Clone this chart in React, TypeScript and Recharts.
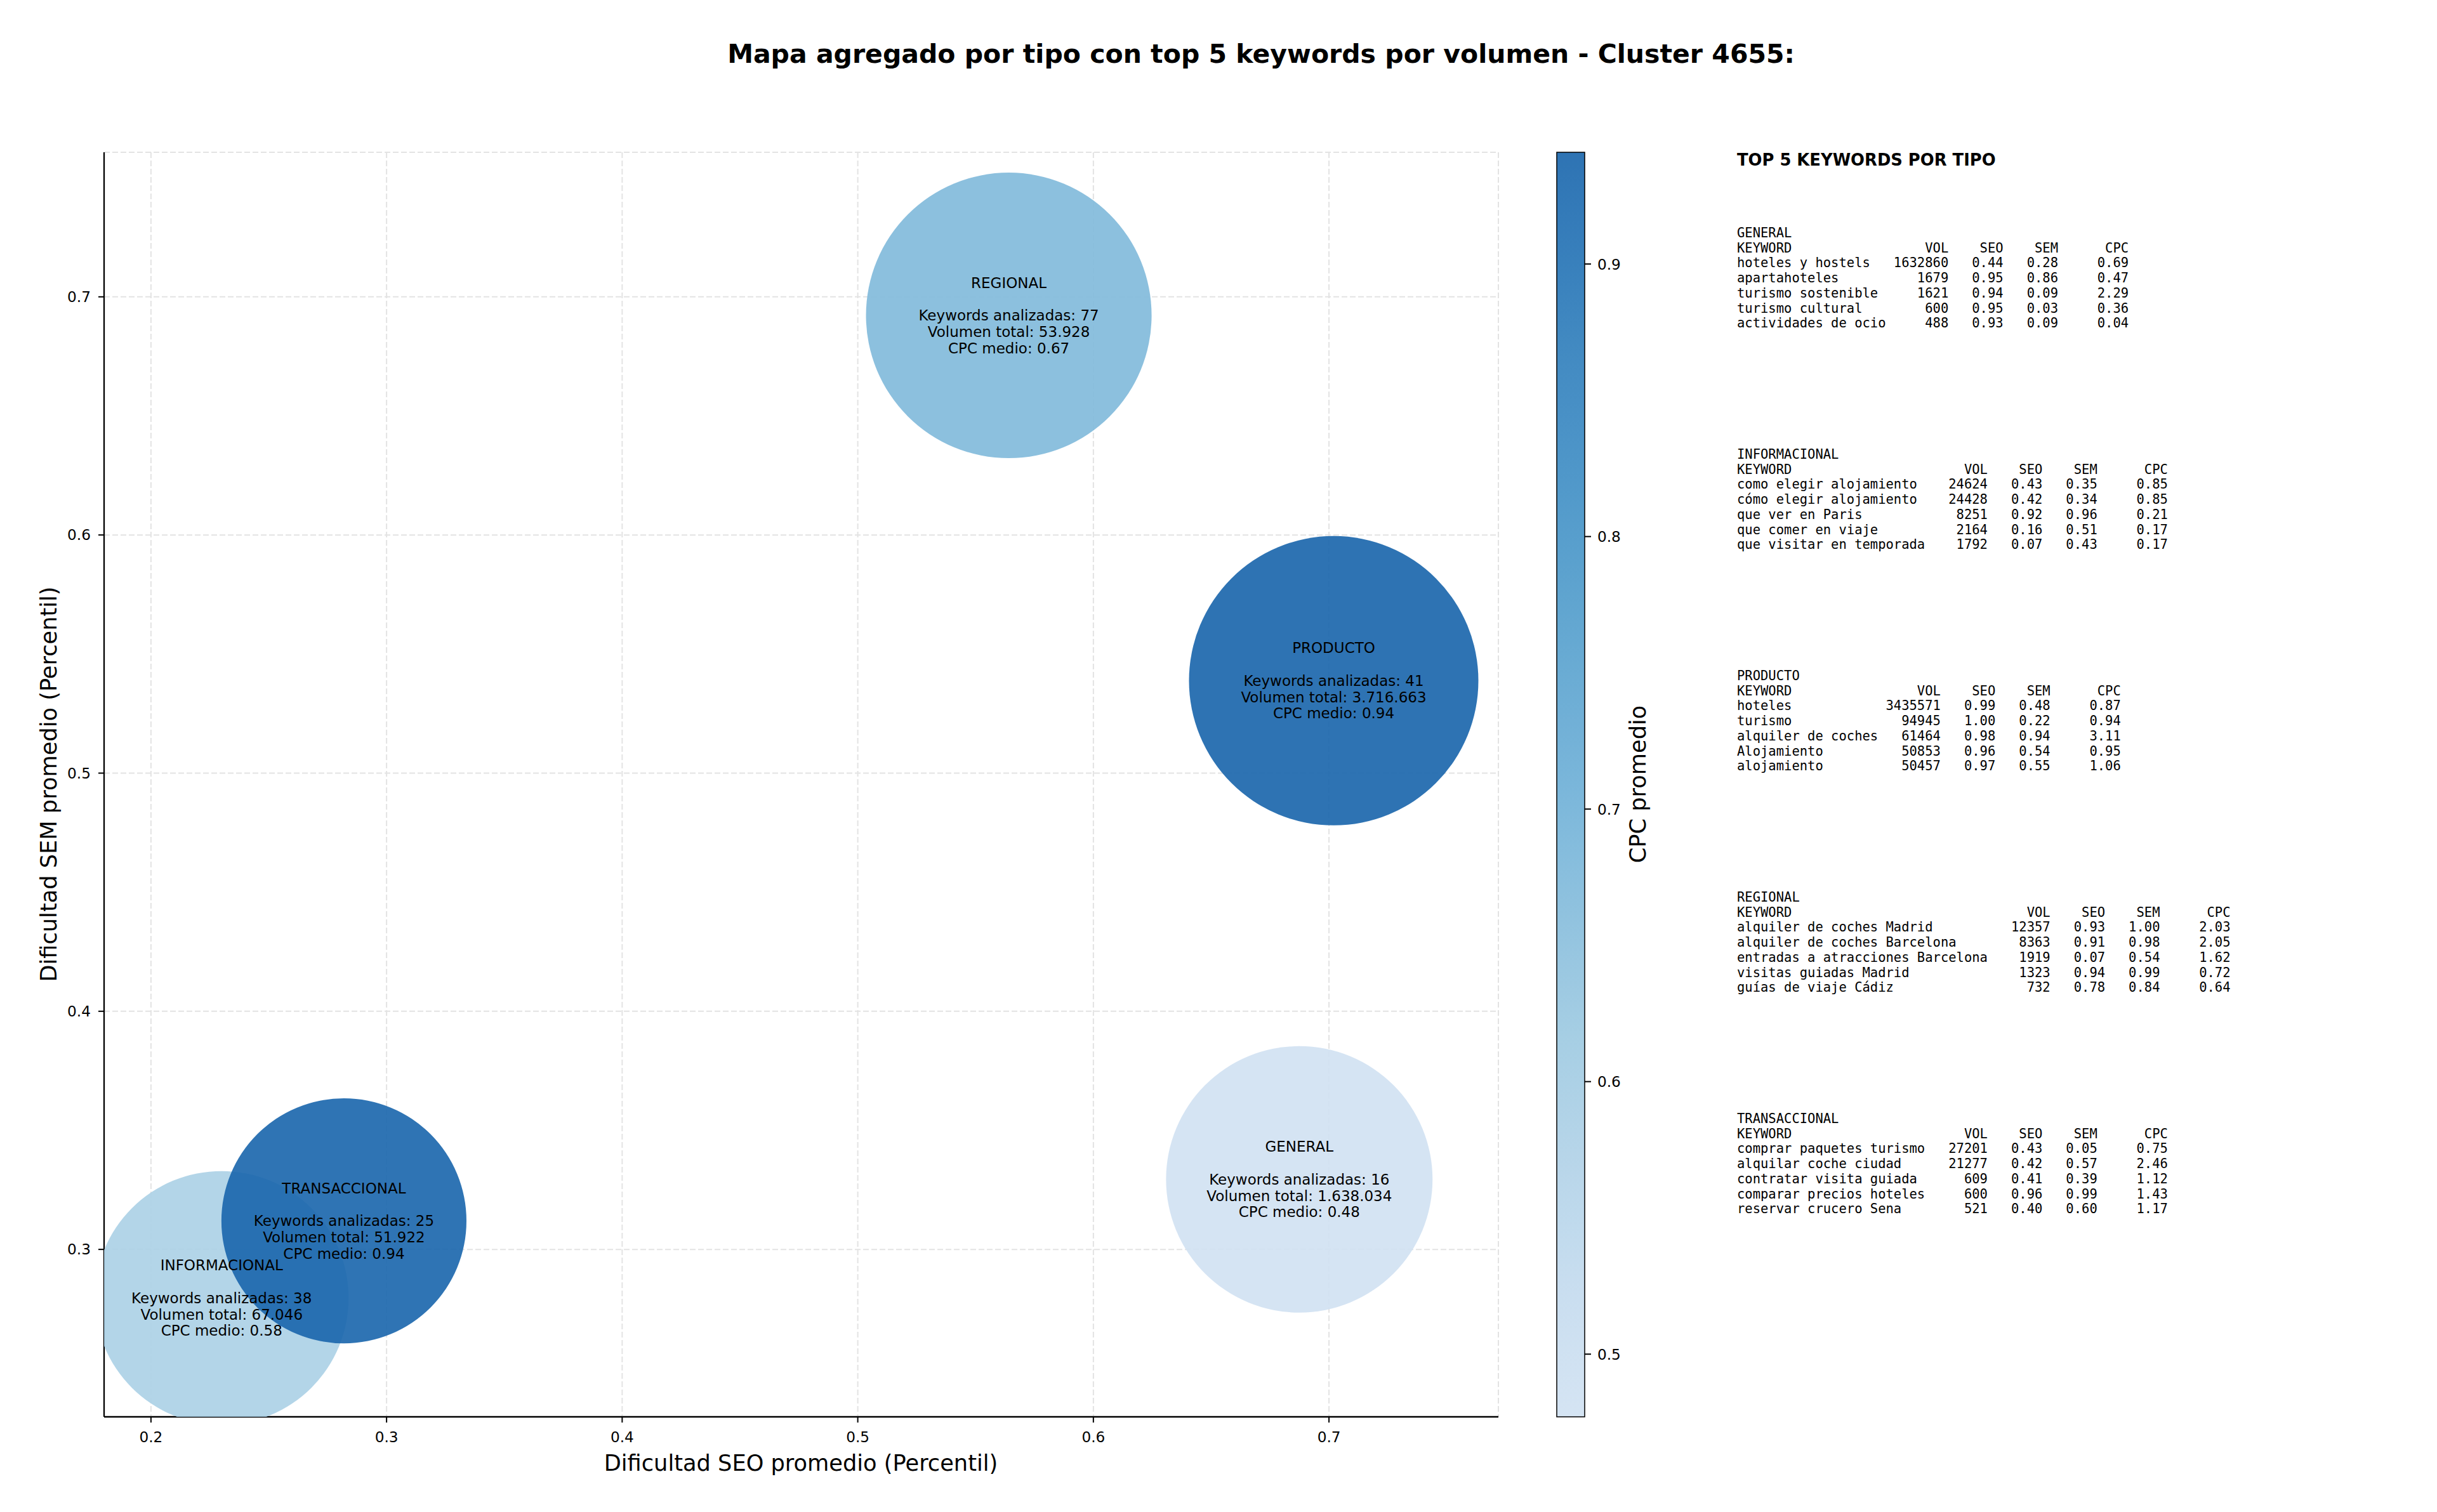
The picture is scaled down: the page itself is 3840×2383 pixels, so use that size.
import React from "react";
import {
  ScatterChart,
  Scatter,
  XAxis,
  YAxis,
  ZAxis,
  CartesianGrid,
  Cell,
} from "recharts";

// tipos de keyword, en el orden en que se dibujan
const tipos = ["GENERAL", "INFORMACIONAL", "PRODUCTO", "REGIONAL", "TRANSACCIONAL"];
const seoMedio = [0.6874, 0.23, 0.702, 0.5641, 0.2819];
const semMedio = [0.3294, 0.2796, 0.5388, 0.6922, 0.312];
const cpcMedio = [0.477, 0.58, 0.941, 0.67, 0.939];
const keywordsAnalizadas = [16, 38, 41, 77, 25];
const volumenTotal = [1638034, 67046, 3716663, 53928, 51922];
// peso relativo del area de cada burbuja
const pesoBurbuja = [0.848, 0.77, 1.0, 0.974, 0.717];

const xTicks = [0.2, 0.3, 0.4, 0.5, 0.6, 0.7];
const yTicks = [0.3, 0.4, 0.5, 0.6, 0.7];
const cbTicks = [0.5, 0.6, 0.7, 0.8, 0.9];

type Row = [string, number, number, number, number];

const topGeneral: Row[] = [
  ["hoteles y hostels", 1632860, 0.44, 0.28, 0.69],
  ["apartahoteles", 1679, 0.95, 0.86, 0.47],
  ["turismo sostenible", 1621, 0.94, 0.09, 2.29],
  ["turismo cultural", 600, 0.95, 0.03, 0.36],
  ["actividades de ocio", 488, 0.93, 0.09, 0.04],
];
const topInformacional: Row[] = [
  ["como elegir alojamiento", 24624, 0.43, 0.35, 0.85],
  ["cómo elegir alojamiento", 24428, 0.42, 0.34, 0.85],
  ["que ver en Paris", 8251, 0.92, 0.96, 0.21],
  ["que comer en viaje", 2164, 0.16, 0.51, 0.17],
  ["que visitar en temporada", 1792, 0.07, 0.43, 0.17],
];
const topProducto: Row[] = [
  ["hoteles", 3435571, 0.99, 0.48, 0.87],
  ["turismo", 94945, 1.0, 0.22, 0.94],
  ["alquiler de coches", 61464, 0.98, 0.94, 3.11],
  ["Alojamiento", 50853, 0.96, 0.54, 0.95],
  ["alojamiento", 50457, 0.97, 0.55, 1.06],
];
const topRegional: Row[] = [
  ["alquiler de coches Madrid", 12357, 0.93, 1.0, 2.03],
  ["alquiler de coches Barcelona", 8363, 0.91, 0.98, 2.05],
  ["entradas a atracciones Barcelona", 1919, 0.07, 0.54, 1.62],
  ["visitas guiadas Madrid", 1323, 0.94, 0.99, 0.72],
  ["guías de viaje Cádiz", 732, 0.78, 0.84, 0.64],
];
const topTransaccional: Row[] = [
  ["comprar paquetes turismo", 27201, 0.43, 0.05, 0.75],
  ["alquilar coche ciudad", 21277, 0.42, 0.57, 2.46],
  ["contratar visita guiada", 609, 0.41, 0.39, 1.12],
  ["comparar precios hoteles", 600, 0.96, 0.99, 1.43],
  ["reservar crucero Sena", 521, 0.4, 0.6, 1.17],
];
const tablas = [topGeneral, topInformacional, topProducto, topRegional, topTransaccional];

const SANS = "'DejaVu Sans', sans-serif";
const MONO = "'DejaVu Sans Mono', monospace";

// Blues de matplotlib
const BLUES = [
  [247, 251, 255],
  [222, 235, 247],
  [198, 219, 239],
  [158, 202, 225],
  [107, 174, 214],
  [66, 146, 198],
  [33, 113, 181],
  [8, 81, 156],
  [8, 48, 107],
];
function blues(t: number) {
  const p = Math.max(0, Math.min(1, t)) * 8;
  const i = Math.min(7, Math.floor(p));
  const f = p - i;
  const c = BLUES[i].map((v, k) => Math.round(v + (BLUES[i + 1][k] - v) * f));
  return `rgb(${c[0]},${c[1]},${c[2]})`;
}
const cpcMin = Math.min(...cpcMedio);
const cpcMax = Math.max(...cpcMedio);
const cpcColor = (v: number) => blues(0.2 + 0.6 * ((v - cpcMin) / (cpcMax - cpcMin)));

const fmtMiles = (n: number) => String(n).replace(/\B(?=(\d{3})+(?!\d))/g, ".");

const data = tipos.map((tipo, i) => ({
  tipo,
  seo: seoMedio[i],
  sem: semMedio[i],
  cpc: cpcMedio[i],
  kw: keywordsAnalizadas[i],
  vol: volumenTotal[i],
  peso: pesoBurbuja[i],
}));

function tablaLines(nombre: string, rows: Row[]) {
  const w = Math.max(...rows.map((r) => r[0].length));
  const header =
    "KEYWORD".padEnd(w) + "VOL".padStart(8) + "SEO".padStart(7) + "SEM".padStart(7) + "CPC".padStart(9);
  const body = rows.map(
    (r) =>
      r[0].padEnd(w) +
      String(r[1]).padStart(8) +
      r[2].toFixed(2).padStart(7) +
      r[3].toFixed(2).padStart(7) +
      r[4].toFixed(2).padStart(9)
  );
  return [nombre, header, ...body];
}

const BubbleLabel = (p: any) => {
  const d = p.payload;
  const lines = [
    d.tipo,
    "",
    `Keywords analizadas: ${d.kw}`,
    `Volumen total: ${fmtMiles(d.vol)}`,
    `CPC medio: ${d.cpc.toFixed(2)}`,
  ];
  return (
    <text textAnchor="middle" fontSize={23} fontFamily={SANS} fill="#000" dominantBaseline="central">
      {lines.map((l, i) => (
        <tspan key={i} x={p.cx} y={p.cy + (i - 2) * 25.8}>
          {l}
        </tspan>
      ))}
    </text>
  );
};

export default function App() {
  // plot area
  const top = 240;
  const bottom = 2233;
  // colorbar
  const cbX = 2453;
  const cbW = 44;
  const cbY = (v: number) => bottom - ((v - cpcMin) / (cpcMax - cpcMin)) * (bottom - top);
  const gradStops = Array.from({ length: 21 }, (_, k) => cpcMin + ((cpcMax - cpcMin) * k) / 20);

  return (
    <div style={{ position: "relative", width: 3840, height: 2383, background: "#fff" }}>
      <style>{`body{margin:0}`}</style>
      <div style={{ position: "absolute", left: 0, top: 0 }}>
        <ScatterChart width={2400} height={2383} margin={{ top: 240, right: 39, bottom: 0, left: 64 }}>
          <CartesianGrid stroke="#e3e3e3" strokeDasharray="9 4" strokeWidth={2} />
          <XAxis
            type="number"
            dataKey="seo"
            domain={[0.1801, 0.7719]}
            allowDataOverflow
            ticks={xTicks}
            tickFormatter={(v) => v.toFixed(1)}
            height={150}
            tickSize={9}
            tickMargin={15}
            tick={{ fontSize: 23.2, fill: "#000", fontFamily: SANS }}
            axisLine={{ stroke: "#000", strokeWidth: 2.3 }}
            tickLine={{ stroke: "#000", strokeWidth: 2 }}
          />
          <YAxis
            type="number"
            dataKey="sem"
            domain={[0.2297, 0.7607]}
            allowDataOverflow
            ticks={yTicks}
            tickFormatter={(v) => v.toFixed(1)}
            width={100}
            tickSize={9}
            tickMargin={12}
            tick={{ fontSize: 23.2, fill: "#000", fontFamily: SANS }}
            axisLine={{ stroke: "#000", strokeWidth: 2.3 }}
            tickLine={{ stroke: "#000", strokeWidth: 2 }}
          />
          <ZAxis type="number" dataKey="peso" domain={[0, 1]} range={[0, Math.PI * 228 * 228]} />
          <Scatter data={data} isAnimationActive={false}>
            {data.map((d, i) => (
              <Cell key={i} fill={cpcColor(d.cpc)} fillOpacity={0.9} />
            ))}
          </Scatter>
          <Scatter data={data} isAnimationActive={false} shape={BubbleLabel} />
        </ScatterChart>
      </div>

      <svg
        width={3840}
        height={2383}
        style={{ position: "absolute", left: 0, top: 0, pointerEvents: "none" }}
      >
        <defs>
          <linearGradient id="cb" x1="0" y1="1" x2="0" y2="0">
            {gradStops.map((v, k) => (
              <stop key={k} offset={`${k * 5}%`} stopColor={cpcColor(v)} stopOpacity={0.9} />
            ))}
          </linearGradient>
        </defs>

        <text
          x={1987}
          y={85}
          textAnchor="middle"
          dominantBaseline="central"
          fontSize={41}
          fontWeight="bold"
          fontFamily={SANS}
        >
          Mapa agregado por tipo con top 5 keywords por volumen - Cluster 4655:
        </text>

        <text x={1262} y={2305} textAnchor="middle" dominantBaseline="central" fontSize={35.2} fontFamily={SANS}>
          Dificultad SEO promedio (Percentil)
        </text>
        <text
          x={76}
          y={1236}
          textAnchor="middle"
          dominantBaseline="central"
          fontSize={35.2}
          fontFamily={SANS}
          transform="rotate(-90 76 1236)"
        >
          Dificultad SEM promedio (Percentil)
        </text>

        {/* colorbar */}
        <rect x={cbX} y={top} width={cbW} height={bottom - top} fill="url(#cb)" stroke="#000" strokeWidth={1.5} />
        {cbTicks.map((v) => (
          <g key={v}>
            <line x1={cbX + cbW} x2={cbX + cbW + 10} y1={cbY(v)} y2={cbY(v)} stroke="#000" strokeWidth={2} />
            <text x={cbX + cbW + 20} y={cbY(v)} dominantBaseline="central" fontSize={23.2} fontFamily={SANS}>
              {v.toFixed(1)}
            </text>
          </g>
        ))}
        <text
          x={2580}
          y={1236}
          textAnchor="middle"
          dominantBaseline="central"
          fontSize={35.2}
          fontFamily={SANS}
          transform="rotate(-90 2580 1236)"
        >
          CPC promedio
        </text>

        {/* panel de texto */}
        <text x={2737} y={252} dominantBaseline="central" fontSize={25.8} fontWeight="bold" fontFamily={SANS}>
          TOP 5 KEYWORDS POR TIPO
        </text>
        {tipos.map((tipo, gi) => {
          const y0 = 367 + gi * 349;
          return tablaLines(tipo, tablas[gi]).map((line, li) => (
            <text
              key={`${gi}-${li}`}
              x={2737}
              y={y0 + li * 23.7}
              dominantBaseline="central"
              fontSize={20.5}
              fontFamily={MONO}
              style={{ whiteSpace: "pre" }}
            >
              {line}
            </text>
          ));
        })}
      </svg>
    </div>
  );
}
